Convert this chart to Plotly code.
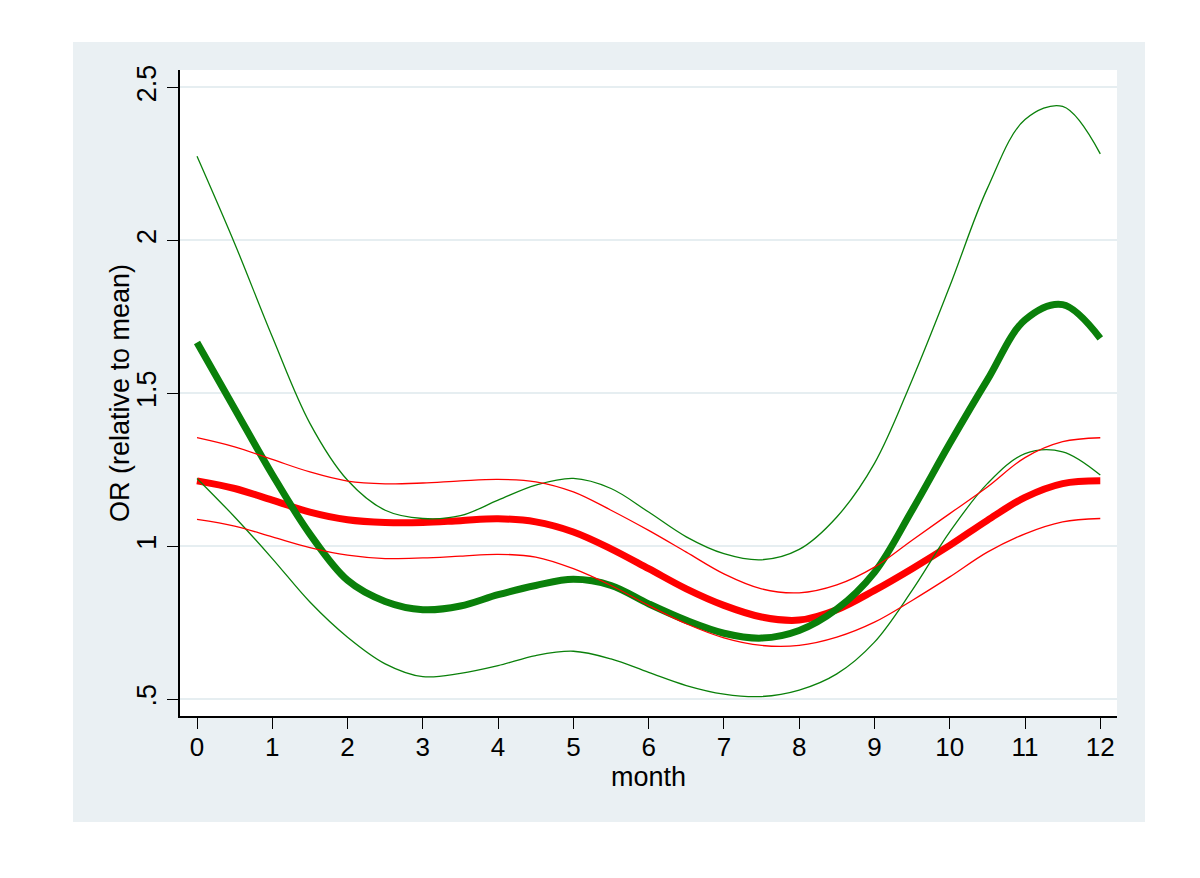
import plotly.graph_objects as go

months = [0, 0.5, 1, 1.5, 2, 2.5, 3, 3.5, 4, 4.5, 5, 5.5, 6, 6.5, 7, 7.5, 8, 8.5, 9, 9.5, 10, 10.5, 11, 11.5, 12]

red_mid = [1.214, 1.189, 1.151, 1.112, 1.087, 1.078, 1.078, 1.084, 1.090, 1.080, 1.047, 0.992, 0.927,
           0.861, 0.807, 0.769, 0.759, 0.793, 0.856, 0.927, 1.003, 1.085, 1.160, 1.205, 1.214]
red_hi = [1.355, 1.325, 1.284, 1.243, 1.213, 1.204, 1.207, 1.214, 1.219, 1.211, 1.178, 1.118, 1.052,
          0.981, 0.910, 0.861, 0.848, 0.874, 0.932, 1.020, 1.107, 1.194, 1.290, 1.342, 1.355]
red_lo = [1.088, 1.066, 1.031, 0.996, 0.971, 0.960, 0.962, 0.968, 0.974, 0.965, 0.927, 0.872, 0.807,
          0.747, 0.701, 0.676, 0.676, 0.703, 0.752, 0.823, 0.900, 0.981, 1.041, 1.080, 1.091]

green_mid = [1.666, 1.450, 1.235, 1.040, 0.889, 0.820, 0.793, 0.805, 0.842, 0.872, 0.892, 0.872, 0.812,
             0.758, 0.716, 0.700, 0.725, 0.795, 0.915, 1.118, 1.336, 1.544, 1.740, 1.790, 1.680]
green_hi = [2.275, 1.990, 1.685, 1.402, 1.216, 1.118, 1.091, 1.100, 1.151, 1.200, 1.222, 1.189, 1.112,
            1.031, 0.976, 0.956, 0.990, 1.096, 1.271, 1.544, 1.850, 2.170, 2.395, 2.438, 2.283]
green_lo = [1.222, 1.096, 0.960, 0.818, 0.703, 0.616, 0.574, 0.585, 0.610, 0.643, 0.657, 0.632, 0.588,
            0.545, 0.517, 0.509, 0.530, 0.583, 0.687, 0.856, 1.047, 1.205, 1.303, 1.309, 1.233]

x_ticks = list(range(0, 13))
y_ticks = [0.5, 1, 1.5, 2, 2.5]
y_ticklabels = [".5", "1", "1.5", "2", "2.5"]
x_title = "month"
y_title = "OR (relative to mean)"

RED = "#FF0000"
GREEN = "#0A800A"
OUTER = "#EAF0F3"
GRID = "#E6EEF1"
FONT = "Liberation Sans, Arial, sans-serif"

fig = go.Figure()

def add(y, color, width):
    fig.add_trace(go.Scatter(x=months, y=y, mode="lines",
                             line=dict(color=color, width=width, shape="spline", smoothing=1.0),
                             hoverinfo="skip", showlegend=False))

add(red_mid, RED, 7)
add(green_mid, GREEN, 7)
add(green_hi, GREEN, 1.3)
add(green_lo, GREEN, 1.3)
add(red_hi, RED, 1.3)
add(red_lo, RED, 1.3)

# page body has an 8px default margin: work in figure coords = screen - 8
OFF = 8
W, H = 1184, 862
L = 180 - OFF
T = 70 - OFF
R = W - (1117 - OFF)
B = H - (716 - OFF)
pw, ph = W - L - R, H - T - B

def sx(px):
    return (px - OFF - L) / pw

def sy(py):
    return (H - B - (py - OFF)) / ph

fig.add_shape(type="rect", xref="paper", yref="paper",
              x0=sx(73), x1=sx(1145), y0=sy(822), y1=sy(42),
              fillcolor=OUTER, line=dict(width=0), layer="below")
fig.add_shape(type="rect", xref="paper", yref="paper",
              x0=0, x1=1, y0=0, y1=1,
              fillcolor="white", line=dict(width=0), layer="below")

fig.add_annotation(text=x_title, xref="paper", yref="paper",
                   x=sx(648), y=sy(777), xanchor="center", yanchor="middle",
                   showarrow=False, font=dict(size=27, family=FONT, color="black"))
fig.add_annotation(text=y_title, xref="paper", yref="paper",
                   x=sx(120), y=sy(393), xanchor="center", yanchor="middle",
                   textangle=-90, showarrow=False,
                   font=dict(size=27, family=FONT, color="black"))

fig.update_layout(
    width=W, height=H,
    margin=dict(l=L, r=R, t=T, b=B),
    paper_bgcolor="white",
    plot_bgcolor="white",
    font=dict(family=FONT, color="black", size=27),
    xaxis=dict(
        range=[-0.226, 12.222],
        tickvals=x_ticks,
        ticktext=[str(v) for v in x_ticks],
        ticks="outside", ticklen=11, tickwidth=1.3, tickcolor="black",
        ticklabelstandoff=-4,
        showline=True, linecolor="black", linewidth=1.5,
        showgrid=False, zeroline=False,
        tickfont=dict(size=26),
    ),
    yaxis=dict(
        range=[0.4454, 2.557],
        tickvals=y_ticks,
        ticktext=y_ticklabels,
        tickangle=-90,
        ticks="outside", ticklen=11, tickwidth=1.3, tickcolor="black",
        showline=True, linecolor="black", linewidth=1.5,
        showgrid=True, gridcolor=GRID, gridwidth=2,
        zeroline=False,
        tickfont=dict(size=27),
    ),
)

fig.write_html("out.html")
